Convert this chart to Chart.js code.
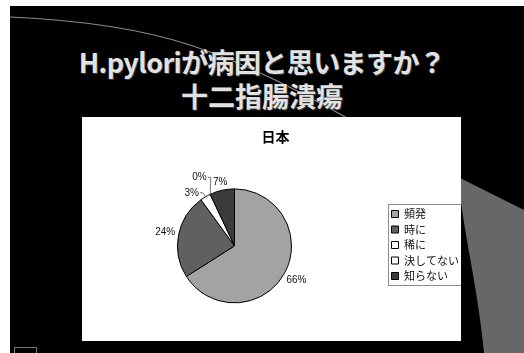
<!DOCTYPE html>
<html lang="ja">
<head>
<meta charset="utf-8">
<script src="https://cdn.jsdelivr.net/npm/chart.js@4/dist/chart.umd.min.js"></script>
<style>
  html, body { margin: 0; padding: 0; background: #fff; }
  body { width: 524px; height: 353px; position: relative; overflow: hidden; }
  #slide { position: absolute; left: 10px; top: 6px; width: 514px; height: 347px; background: #000; overflow: hidden; }
  #deco { position: absolute; left: 0; top: 0; }
  .headline { position: absolute; left: 0; width: 524px; text-align: center; color: #e2e2e2;
    font-family: "Noto Sans CJK JP", "Noto Sans", sans-serif; font-size: 27px; font-weight: bold; line-height: 34px;
    text-shadow: 1px 1px 0 #3a3a3a; white-space: nowrap; }
  #line1 { top: 45px; letter-spacing: -0.6px; }
  #line2 { top: 79px; }
  #chartBox { position: absolute; left: 82px; top: 117px; width: 379px; height: 224px; background: #fff; }
</style>
</head>
<body>
<div id="slide"></div>
<svg id="deco" width="524" height="353" viewBox="0 0 524 353">
  <path d="M430,163 L524,210 L524,353 L484,353 C478,290 465,240 458,180 Z" fill="#676767"/>
  <path d="M10,17 Q120,22 190,45 T347,118 L360,126" fill="none" stroke="#8a8a8a" stroke-width="1.2"/>
  <rect x="14.5" y="347.5" width="22" height="8" fill="none" stroke="#777" stroke-width="1"/>
</svg>
<div class="headline" id="line1">H.pyloriが病因と思いますか？</div>
<div class="headline" id="line2">十二指腸潰瘍</div>
<div id="chartBox"><canvas id="pie" width="379" height="224"></canvas></div>
<script>
// Survey answers: is H. pylori a cause of duodenal ulcer? (Japan)
const chartTitle = '日本';
const categories = ['頻発', '時に', '稀に', '決してない', '知らない'];
const shares = [66, 24, 3, 0, 7];

const sliceColors = ['#a3a3a3', '#606060', '#ffffff', '#fbfbfb', '#3b3b3b'];
// elbow offsets for the slices whose labels hang on leader lines
const leaderOffsets = { 2: [-2.5, -4], 3: [0.5, -17] };

const labelFont = '10px "Liberation Sans", Arial, sans-serif';

const percentLabels = {
  id: 'percentLabels',
  afterDatasetsDraw(chart) {
    const { ctx } = chart;
    const meta = chart.getDatasetMeta(0);
    ctx.save();
    ctx.font = labelFont;
    ctx.fillStyle = '#111';
    ctx.strokeStyle = '#555';
    ctx.lineWidth = 0.8;
    ctx.textBaseline = 'middle';
    meta.data.forEach((arc, i) => {
      const p = arc.getProps(['x', 'y', 'startAngle', 'endAngle', 'outerRadius'], true);
      const mid = (p.startAngle + p.endAngle) / 2;
      const cos = Math.cos(mid), sin = Math.sin(mid);
      const text = shares[i] + '%';
      const leader = leaderOffsets[i];
      if (leader) {
        const ex = p.x + cos * p.outerRadius, ey = p.y + sin * p.outerRadius;
        const kx = ex + leader[0], ky = ey + leader[1];
        ctx.beginPath();
        ctx.moveTo(ex, ey);
        ctx.lineTo(kx, ky);
        ctx.lineTo(kx - 3, ky);
        ctx.stroke();
        ctx.textAlign = 'right';
        ctx.fillText(text, kx - 4, ky);
      } else {
        const w = ctx.measureText(text).width;
        const d = p.outerRadius + 3 + Math.abs(cos) * w / 2 + Math.abs(sin) * 4;
        ctx.textAlign = 'center';
        ctx.fillText(text, p.x + cos * d, p.y + sin * d);
      }
    });
    ctx.restore();
  }
};

const legendFrame = {
  id: 'legendFrame',
  afterDraw(chart) {
    const boxes = chart.legend && chart.legend.legendHitBoxes;
    if (!boxes || !boxes.length) return;
    const left = Math.min(...boxes.map(b => b.left));
    const top = Math.min(...boxes.map(b => b.top));
    const right = Math.max(...boxes.map(b => b.left + b.width));
    const bottom = Math.max(...boxes.map(b => b.top + b.height));
    const ctx = chart.ctx;
    ctx.save();
    ctx.strokeStyle = '#8c8c8c';
    ctx.lineWidth = 1;
    ctx.strokeRect(Math.round(left - 4) + 0.5, Math.round(top - 5) + 0.5,
                   Math.round(right - left + 7), Math.round(bottom - top + 8));
    ctx.restore();
  }
};

new Chart(document.getElementById('pie'), {
  type: 'pie',
  data: {
    labels: categories,
    datasets: [{
      data: shares,
      backgroundColor: sliceColors,
      borderColor: '#000',
      borderWidth: 1,
      radius: 57
    }]
  },
  options: {
    responsive: false,
    animation: false,
    events: [],
    layout: { padding: { left: 0, right: -8, top: 0, bottom: 0 } },
    plugins: {
      title: {
        display: true,
        text: chartTitle,
        color: '#000',
        font: { family: '"Noto Sans CJK JP", sans-serif', size: 14, weight: 'bold' },
        padding: { top: 11, bottom: 6 }
      },
      legend: {
        position: 'right',
        // blank legend title reserves room so the key sits level with the pie
        title: { display: true, text: ' ', font: { size: 10 }, padding: 10 },
        labels: {
          color: '#111',
          font: { family: '"Noto Sans CJK JP", sans-serif', size: 11 },
          boxWidth: 7,
          boxHeight: 7,
          padding: 4.5
        }
      },
      tooltip: { enabled: false }
    }
  },
  plugins: [percentLabels, legendFrame]
});
</script>
</body>
</html>
